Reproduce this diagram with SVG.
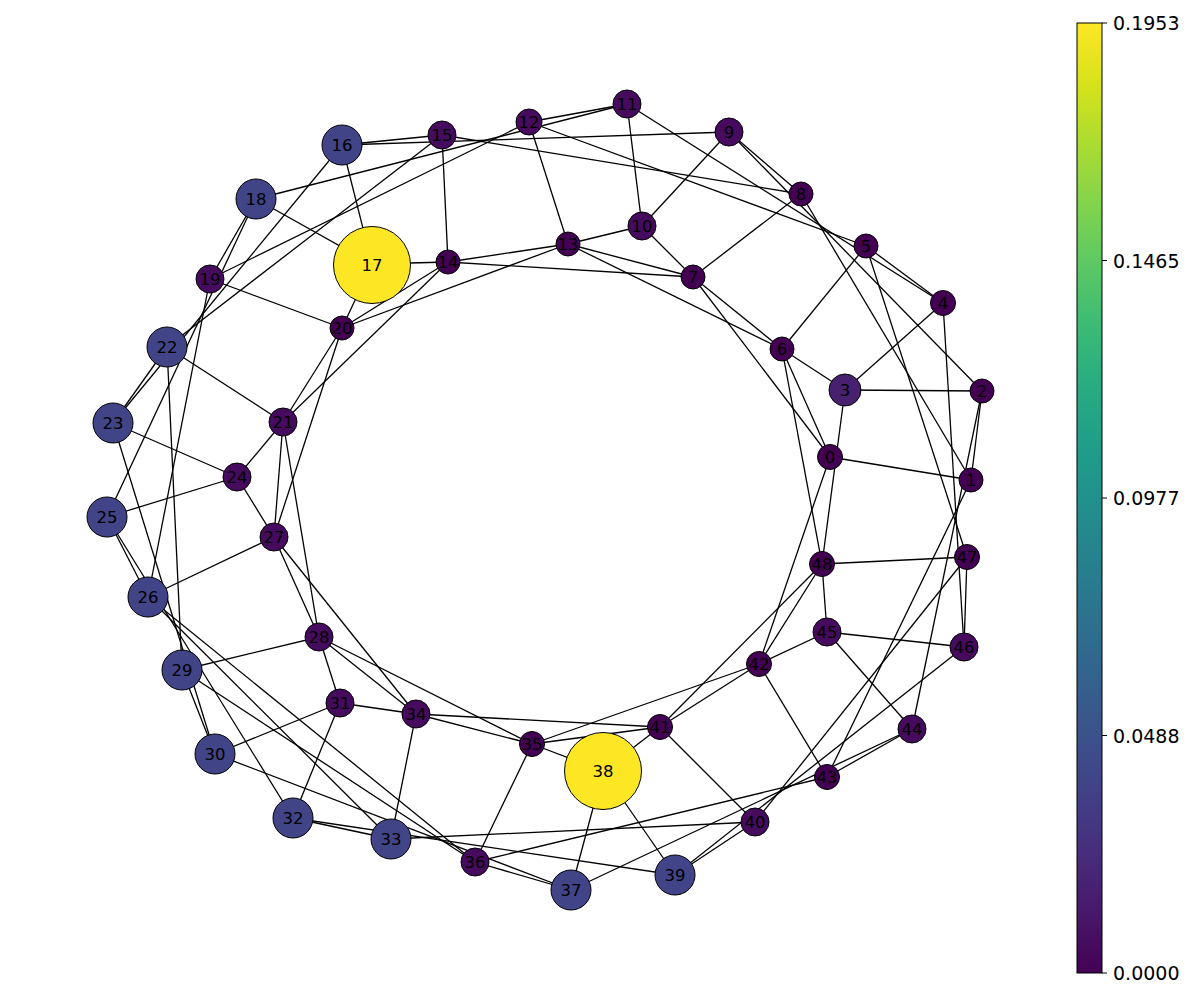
<svg xmlns="http://www.w3.org/2000/svg" width="1200" height="1000" viewBox="0 0 1200 1000">
<style>
.e line{stroke:#000;stroke-width:1.3}
.node circle{stroke:#000;stroke-width:1}
.node text{font-family:"DejaVu Sans","Liberation Sans",sans-serif;font-size:16.5px;text-anchor:middle;dominant-baseline:central;fill:#000}
.s{fill:#440154}
.m{fill:#460b5e}
.t{fill:#47206f}
.b{fill:#414487}
.y{fill:#fde725}
.tick{stroke:#000;stroke-width:1}
.tl{font-family:"DejaVu Sans","Liberation Sans",sans-serif;font-size:19px;dominant-baseline:central;fill:#000}
</style>
<defs>
<linearGradient id="vir" x1="0" y1="1" x2="0" y2="0">
<stop offset="0" stop-color="#440154"/>
<stop offset="0.0625" stop-color="#48186a"/>
<stop offset="0.125" stop-color="#472d7b"/>
<stop offset="0.1875" stop-color="#424086"/>
<stop offset="0.25" stop-color="#3b528b"/>
<stop offset="0.3125" stop-color="#33638d"/>
<stop offset="0.375" stop-color="#2c728e"/>
<stop offset="0.4375" stop-color="#26828e"/>
<stop offset="0.5" stop-color="#21918c"/>
<stop offset="0.5625" stop-color="#1fa088"/>
<stop offset="0.625" stop-color="#28ae80"/>
<stop offset="0.6875" stop-color="#3fbc73"/>
<stop offset="0.75" stop-color="#5ec962"/>
<stop offset="0.8125" stop-color="#84d44b"/>
<stop offset="0.875" stop-color="#addc30"/>
<stop offset="0.9375" stop-color="#d8e219"/>
<stop offset="1" stop-color="#fde725"/>
</linearGradient>
</defs>
<rect width="1200" height="1000" fill="#fff"/>
<g id="edges" class="e">
<line x1="830" y1="457" x2="971" y2="480"/>
<line x1="830" y1="457" x2="693" y2="277"/>
<line x1="830" y1="457" x2="782" y2="349"/>
<line x1="830" y1="457" x2="759" y2="664"/>
<line x1="782" y1="349" x2="822" y2="564"/>
<line x1="845" y1="390" x2="822" y2="564"/>
<line x1="822" y1="564" x2="827" y2="632"/>
<line x1="822" y1="564" x2="967" y2="557"/>
<line x1="822" y1="564" x2="759" y2="664"/>
<line x1="822" y1="564" x2="660" y2="727"/>
<line x1="827" y1="632" x2="964" y2="647"/>
<line x1="827" y1="632" x2="759" y2="664"/>
<line x1="827" y1="632" x2="912" y2="729"/>
<line x1="967" y1="557" x2="964" y2="647"/>
<line x1="943" y1="303" x2="964" y2="647"/>
<line x1="866" y1="246" x2="967" y2="557"/>
<line x1="801" y1="194" x2="971" y2="480"/>
<line x1="971" y1="480" x2="982" y2="391"/>
<line x1="971" y1="480" x2="827" y2="777"/>
<line x1="982" y1="391" x2="912" y2="729"/>
<line x1="967" y1="557" x2="755" y2="822"/>
<line x1="675" y1="875" x2="964" y2="647"/>
<line x1="675" y1="875" x2="755" y2="822"/>
<line x1="827" y1="777" x2="912" y2="729"/>
<line x1="571" y1="890" x2="912" y2="729"/>
<line x1="827" y1="777" x2="475" y2="862"/>
<line x1="759" y1="664" x2="827" y2="777"/>
<line x1="660" y1="727" x2="755" y2="822"/>
<line x1="660" y1="727" x2="603" y2="771"/>
<line x1="660" y1="727" x2="759" y2="664"/>
<line x1="532" y1="744" x2="759" y2="664"/>
<line x1="532" y1="744" x2="660" y2="727"/>
<line x1="416" y1="714" x2="660" y2="727"/>
<line x1="319" y1="637" x2="532" y2="744"/>
<line x1="416" y1="714" x2="532" y2="744"/>
<line x1="532" y1="744" x2="603" y2="771"/>
<line x1="532" y1="744" x2="475" y2="862"/>
<line x1="603" y1="771" x2="571" y2="890"/>
<line x1="603" y1="771" x2="675" y2="875"/>
<line x1="416" y1="714" x2="391" y2="839"/>
<line x1="416" y1="714" x2="340" y2="703"/>
<line x1="416" y1="714" x2="319" y2="637"/>
<line x1="274" y1="537" x2="416" y2="714"/>
<line x1="340" y1="703" x2="319" y2="637"/>
<line x1="340" y1="703" x2="215" y2="754"/>
<line x1="340" y1="703" x2="293" y2="818"/>
<line x1="319" y1="637" x2="182" y2="670"/>
<line x1="283" y1="422" x2="319" y2="637"/>
<line x1="274" y1="537" x2="319" y2="637"/>
<line x1="283" y1="422" x2="274" y2="537"/>
<line x1="237" y1="477" x2="274" y2="537"/>
<line x1="148" y1="597" x2="274" y2="537"/>
<line x1="342" y1="328" x2="274" y2="537"/>
<line x1="342" y1="328" x2="283" y2="422"/>
<line x1="448" y1="262" x2="283" y2="422"/>
<line x1="283" y1="422" x2="237" y2="477"/>
<line x1="283" y1="422" x2="167" y2="347"/>
<line x1="113" y1="423" x2="237" y2="477"/>
<line x1="237" y1="477" x2="107" y2="517"/>
<line x1="210" y1="279" x2="342" y2="328"/>
<line x1="372" y1="264" x2="342" y2="328"/>
<line x1="448" y1="262" x2="342" y2="328"/>
<line x1="568" y1="244" x2="342" y2="328"/>
<line x1="342" y1="145" x2="372" y2="264"/>
<line x1="372" y1="264" x2="256" y2="199"/>
<line x1="448" y1="262" x2="372" y2="264"/>
<line x1="693" y1="277" x2="448" y2="262"/>
<line x1="568" y1="244" x2="448" y2="262"/>
<line x1="448" y1="262" x2="442" y2="135"/>
<line x1="642" y1="226" x2="568" y2="244"/>
<line x1="529" y1="122" x2="568" y2="244"/>
<line x1="693" y1="277" x2="568" y2="244"/>
<line x1="782" y1="349" x2="568" y2="244"/>
<line x1="642" y1="226" x2="627" y2="104"/>
<line x1="729" y1="132" x2="642" y2="226"/>
<line x1="693" y1="277" x2="642" y2="226"/>
<line x1="693" y1="277" x2="801" y2="194"/>
<line x1="782" y1="349" x2="693" y2="277"/>
<line x1="866" y1="246" x2="782" y2="349"/>
<line x1="845" y1="390" x2="782" y2="349"/>
<line x1="845" y1="390" x2="943" y2="303"/>
<line x1="982" y1="391" x2="845" y2="390"/>
<line x1="943" y1="303" x2="866" y2="246"/>
<line x1="943" y1="303" x2="627" y2="104"/>
<line x1="729" y1="132" x2="801" y2="194"/>
<line x1="982" y1="391" x2="729" y2="132"/>
<line x1="627" y1="104" x2="529" y2="122"/>
<line x1="627" y1="104" x2="256" y2="199"/>
<line x1="866" y1="246" x2="529" y2="122"/>
<line x1="529" y1="122" x2="210" y2="279"/>
<line x1="801" y1="194" x2="442" y2="135"/>
<line x1="729" y1="132" x2="342" y2="145"/>
<line x1="442" y1="135" x2="342" y2="145"/>
<line x1="442" y1="135" x2="167" y2="347"/>
<line x1="342" y1="145" x2="113" y2="423"/>
<line x1="167" y1="347" x2="113" y2="423"/>
<line x1="256" y1="199" x2="210" y2="279"/>
<line x1="256" y1="199" x2="107" y2="517"/>
<line x1="210" y1="279" x2="148" y2="597"/>
<line x1="167" y1="347" x2="182" y2="670"/>
<line x1="113" y1="423" x2="215" y2="754"/>
<line x1="182" y1="670" x2="215" y2="754"/>
<line x1="107" y1="517" x2="148" y2="597"/>
<line x1="107" y1="517" x2="293" y2="818"/>
<line x1="148" y1="597" x2="391" y2="839"/>
<line x1="148" y1="597" x2="475" y2="862"/>
<line x1="182" y1="670" x2="475" y2="862"/>
<line x1="215" y1="754" x2="571" y2="890"/>
<line x1="475" y1="862" x2="571" y2="890"/>
<line x1="293" y1="818" x2="391" y2="839"/>
<line x1="293" y1="818" x2="675" y2="875"/>
<line x1="391" y1="839" x2="755" y2="822"/>
</g>
<g id="n0" class="node"><circle class="s" cx="830" cy="457" r="12.5"/><text x="830" y="457">0</text></g>
<g id="n1" class="node"><circle class="s" cx="971" cy="480" r="12"/><text x="971" y="480">1</text></g>
<g id="n2" class="node"><circle class="s" cx="982" cy="391" r="12"/><text x="982" y="391">2</text></g>
<g id="n3" class="node"><circle class="t" cx="845" cy="390" r="16"/><text x="845" y="390">3</text></g>
<g id="n4" class="node"><circle class="s" cx="943" cy="303" r="12.5"/><text x="943" y="303">4</text></g>
<g id="n5" class="node"><circle class="s" cx="866" cy="246" r="12"/><text x="866" y="246">5</text></g>
<g id="n6" class="node"><circle class="s" cx="782" cy="349" r="12"/><text x="782" y="349">6</text></g>
<g id="n7" class="node"><circle class="s" cx="693" cy="277" r="12"/><text x="693" y="277">7</text></g>
<g id="n8" class="node"><circle class="s" cx="801" cy="194" r="12"/><text x="801" y="194">8</text></g>
<g id="n9" class="node"><circle class="m" cx="729" cy="132" r="14"/><text x="729" y="132">9</text></g>
<g id="n10" class="node"><circle class="m" cx="642" cy="226" r="14"/><text x="642" y="226">10</text></g>
<g id="n11" class="node"><circle class="m" cx="627" cy="104" r="14"/><text x="627" y="104">11</text></g>
<g id="n12" class="node"><circle class="m" cx="529" cy="122" r="13"/><text x="529" y="122">12</text></g>
<g id="n13" class="node"><circle class="s" cx="568" cy="244" r="12"/><text x="568" y="244">13</text></g>
<g id="n14" class="node"><circle class="s" cx="448" cy="262" r="12"/><text x="448" y="262">14</text></g>
<g id="n15" class="node"><circle class="m" cx="442" cy="135" r="14"/><text x="442" y="135">15</text></g>
<g id="n16" class="node"><circle class="b" cx="342" cy="145" r="20"/><text x="342" y="145">16</text></g>
<g id="n17" class="node"><circle class="y" cx="372" cy="265" r="38.5"/><text x="372" y="265">17</text></g>
<g id="n18" class="node"><circle class="b" cx="256" cy="199" r="20"/><text x="256" y="199">18</text></g>
<g id="n19" class="node"><circle class="m" cx="210" cy="279" r="14"/><text x="210" y="279">19</text></g>
<g id="n20" class="node"><circle class="s" cx="342" cy="328" r="12"/><text x="342" y="328">20</text></g>
<g id="n21" class="node"><circle class="m" cx="283" cy="422" r="14"/><text x="283" y="422">21</text></g>
<g id="n22" class="node"><circle class="b" cx="167" cy="347" r="20"/><text x="167" y="347">22</text></g>
<g id="n23" class="node"><circle class="b" cx="113" cy="423" r="20"/><text x="113" y="423">23</text></g>
<g id="n24" class="node"><circle class="m" cx="237" cy="477" r="14"/><text x="237" y="477">24</text></g>
<g id="n25" class="node"><circle class="b" cx="107" cy="517" r="20"/><text x="107" y="517">25</text></g>
<g id="n26" class="node"><circle class="b" cx="148" cy="597" r="20"/><text x="148" y="597">26</text></g>
<g id="n27" class="node"><circle class="m" cx="274" cy="537" r="14"/><text x="274" y="537">27</text></g>
<g id="n28" class="node"><circle class="m" cx="319" cy="637" r="14"/><text x="319" y="637">28</text></g>
<g id="n29" class="node"><circle class="b" cx="182" cy="670" r="20"/><text x="182" y="670">29</text></g>
<g id="n30" class="node"><circle class="b" cx="215" cy="754" r="20"/><text x="215" y="754">30</text></g>
<g id="n31" class="node"><circle class="m" cx="340" cy="703" r="14"/><text x="340" y="703">31</text></g>
<g id="n32" class="node"><circle class="b" cx="293" cy="818" r="20"/><text x="293" y="818">32</text></g>
<g id="n33" class="node"><circle class="b" cx="391" cy="839" r="20"/><text x="391" y="839">33</text></g>
<g id="n34" class="node"><circle class="m" cx="416" cy="714" r="14"/><text x="416" y="714">34</text></g>
<g id="n35" class="node"><circle class="s" cx="532" cy="744" r="12.5"/><text x="532" y="744">35</text></g>
<g id="n36" class="node"><circle class="m" cx="475" cy="862" r="14"/><text x="475" y="862">36</text></g>
<g id="n37" class="node"><circle class="b" cx="571" cy="890" r="20"/><text x="571" y="890">37</text></g>
<g id="n38" class="node"><circle class="y" cx="603" cy="771" r="38.5"/><text x="603" y="771">38</text></g>
<g id="n39" class="node"><circle class="b" cx="675" cy="875" r="20"/><text x="675" y="875">39</text></g>
<g id="n40" class="node"><circle class="m" cx="755" cy="822" r="14"/><text x="755" y="822">40</text></g>
<g id="n41" class="node"><circle class="s" cx="660" cy="727" r="12.5"/><text x="660" y="727">41</text></g>
<g id="n42" class="node"><circle class="s" cx="759" cy="664" r="12.5"/><text x="759" y="664">42</text></g>
<g id="n43" class="node"><circle class="s" cx="827" cy="777" r="12.5"/><text x="827" y="777">43</text></g>
<g id="n44" class="node"><circle class="m" cx="912" cy="729" r="14"/><text x="912" y="729">44</text></g>
<g id="n45" class="node"><circle class="m" cx="827" cy="632" r="14"/><text x="827" y="632">45</text></g>
<g id="n46" class="node"><circle class="m" cx="964" cy="647" r="14"/><text x="964" y="647">46</text></g>
<g id="n47" class="node"><circle class="s" cx="967" cy="557" r="12.5"/><text x="967" y="557">47</text></g>
<g id="n48" class="node"><circle class="s" cx="822" cy="564" r="12.5"/><text x="822" y="564">48</text></g>
<g id="colorbar">
<rect x="1077" y="23" width="25" height="950" fill="url(#vir)" stroke="#000" stroke-width="1"/>
<line class="tick" x1="1102" y1="23" x2="1107" y2="23"/>
<line class="tick" x1="1102" y1="260.5" x2="1107" y2="260.5"/>
<line class="tick" x1="1102" y1="498" x2="1107" y2="498"/>
<line class="tick" x1="1102" y1="735.5" x2="1107" y2="735.5"/>
<line class="tick" x1="1102" y1="973" x2="1107" y2="973"/>
<text class="tl" x="1113" y="23">0.1953</text>
<text class="tl" x="1113" y="260.5">0.1465</text>
<text class="tl" x="1113" y="498">0.0977</text>
<text class="tl" x="1113" y="735.5">0.0488</text>
<text class="tl" x="1113" y="973">0.0000</text>
</g>
</svg>
